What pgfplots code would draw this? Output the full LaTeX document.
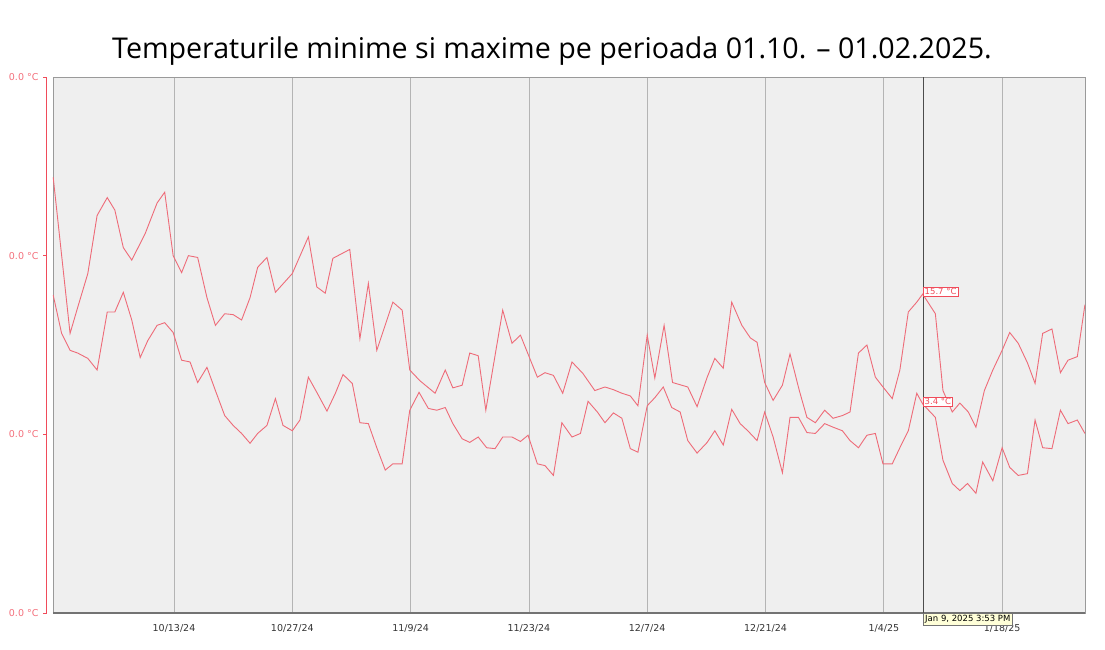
\documentclass[border=0pt]{standalone}
\usepackage{fontspec}
\setmainfont{Open Sans}
\newfontfamily\tickfont{DejaVu Sans}
\usepackage{pgfplots}
\pgfplotsset{compat=1.18}
\definecolor{linered}{HTML}{EE6B78}
\definecolor{axred}{HTML}{F04B5A}
\definecolor{plotbg}{HTML}{EFEFEF}
\definecolor{gridgray}{HTML}{B4B4B4}
\definecolor{framegray}{HTML}{9A9A9A}
\definecolor{tipyellow}{HTML}{FFFFD8}

% day 0 = 10/13/24
\pgfplotstableread{
d T
-14.3 28.8
-12.3 11.3
-11.4 14.2
-10.2 18.0
-9.1 24.5
-7.9 26.5
-7.0 25.1
-6.0 20.9
-5.0 19.5
-3.4 22.5
-2.0 25.9
-1.1 27.1
-0.1 20.0
0.9 18.1
1.7 20.0
2.8 19.8
3.9 15.3
4.9 12.2
6.0 13.5
7.0 13.4
8.0 12.8
9.0 15.3
9.9 18.7
11.0 19.8
12.0 15.9
14.0 18.0
15.9 22.1
16.9 16.5
17.9 15.8
18.8 19.7
20.8 20.7
22.0 10.7
23.0 16.9
24.0 9.4
25.9 14.8
27.0 13.9
27.9 7.2
29.1 6.0
30.9 4.6
32.1 7.2
33.0 5.2
34.1 5.5
35.0 9.1
36.0 8.8
36.9 2.7
38.9 13.9
40.0 10.2
41.0 11.1
43.0 6.4
43.9 6.9
44.9 6.6
46.0 4.6
47.1 8.1
48.4 6.8
49.8 4.9
51.0 5.3
52.0 5.0
53.0 4.6
54.0 4.3
54.9 3.2
56.0 11.1
56.9 6.3
58.0 12.2
59.0 5.8
60.8 5.3
61.9 3.1
63.1 6.4
64.0 8.5
65.0 7.4
66.0 14.8
67.2 12.2
68.2 10.8
69.0 10.3
69.9 5.8
70.9 3.8
72.0 5.5
72.9 9.0
74.0 4.9
74.9 1.9
75.9 1.3
77.0 2.7
78.0 1.8
79.1 2.1
80.0 2.5
81.0 9.1
82.0 10.0
83.0 6.4
83.9 5.3
85.0 4.0
85.9 7.2
86.9 13.7
87.9 14.8
88.6 15.7
90.1 13.5
91.0 4.9
92.1 2.5
93.0 3.5
94.0 2.5
94.9 0.8
95.9 4.9
96.9 7.2
98.0 9.4
98.9 11.4
99.9 10.2
101.0 8.0
101.9 5.7
102.8 11.3
103.9 11.8
104.9 6.9
105.8 8.3
106.9 8.7
107.8 14.5
}\tmax

\pgfplotstableread{
d T
-14.3 15.6
-13.3 11.3
-12.3 9.4
-11.4 9.1
-10.2 8.5
-9.1 7.2
-7.9 13.7
-7.0 13.7
-6.0 15.9
-5.0 12.8
-4.0 8.6
-3.1 10.5
-2.0 12.2
-1.1 12.5
-0.1 11.4
0.9 8.3
1.9 8.1
2.8 5.8
3.9 7.5
4.9 4.9
6.0 2.1
7.0 1.0
8.0 0.1
9.0 -1.0
9.9 0.1
11.0 1.0
12.0 4.0
12.9 1.0
14.0 0.4
14.9 1.6
15.9 6.4
16.9 4.7
18.1 2.6
19.1 4.6
20.0 6.7
21.1 5.7
22.0 1.3
23.0 1.2
24.0 -1.5
25.0 -4.0
25.9 -3.3
27.0 -3.3
27.9 2.7
29.0 4.7
30.1 2.9
31.1 2.7
32.1 3.0
33.0 1.2
34.1 -0.5
35.0 -0.9
36.0 -0.3
37.0 -1.5
38.0 -1.6
38.9 -0.3
40.0 -0.3
41.0 -0.8
41.9 -0.1
43.0 -3.3
43.9 -3.5
44.9 -4.6
45.9 1.3
47.1 -0.3
48.1 0.1
49.0 3.7
50.1 2.5
51.0 1.3
52.0 2.4
53.0 1.8
54.0 -1.6
54.9 -2.0
56.0 3.2
56.9 4.1
57.9 5.3
58.9 3.0
59.9 2.5
60.8 -0.7
61.9 -2.1
63.1 -0.9
64.0 0.4
65.0 -1.2
66.0 2.8
67.0 1.2
67.9 0.4
69.0 -0.7
69.9 2.5
70.9 -0.3
72.0 -4.3
72.9 1.9
73.9 1.9
74.9 0.2
75.9 0.1
77.0 1.2
78.0 0.8
79.1 0.4
80.0 -0.7
81.0 -1.5
82.0 -0.1
83.0 0.1
83.9 -3.3
85.0 -3.3
85.9 -1.5
86.9 0.4
87.9 4.6
88.6 3.4
90.1 1.9
91.0 -2.9
92.1 -5.5
93.0 -6.3
93.9 -5.5
94.9 -6.6
95.7 -3.1
96.9 -5.2
98.0 -1.5
98.9 -3.7
99.9 -4.6
101.0 -4.4
101.9 1.6
102.8 -1.5
103.9 -1.6
104.9 2.7
105.8 1.2
106.9 1.6
107.8 0.1
}\tmin

\begin{document}
\begin{tikzpicture}
\useasboundingbox (-53pt,-36pt) rectangle (1052pt,613pt);
\begin{axis}[
  at={(0,0)}, anchor=south west,
  scale only axis, width=1032pt, height=536pt,
  xmin=-14.32, xmax=107.81, ymin=-20, ymax=40,
  axis background/.style={fill=plotbg},
  axis line style={framegray, line width=0.8pt},
  xtick={0,14,...,98},
  xticklabels={10/13/24,10/27/24,11/9/24,11/23/24,12/7/24,12/21/24,1/4/25,1/18/25},
  ytick={-20,0,20,40},
  yticklabels={0.0 °C,0.0 °C,0.0 °C,0.0 °C},
  major tick length=0pt,
  xmajorgrids,
  grid style={gridgray, line width=0.8pt},
  yticklabel style={font=\tickfont\fontsize{9.5}{10}\selectfont, text=axred!80, xshift=-11pt},
  xticklabel style={font=\tickfont\fontsize{9.5}{10}\selectfont, text=black!80, yshift=-8pt},
  clip mode=individual,
]
\addplot[linered, line width=0.9pt] table[x=d, y=T] {\tmax};
\addplot[linered, line width=0.9pt] table[x=d, y=T] {\tmin};

\draw[black!55, line width=1.6pt] (rel axis cs:0,0) -- (rel axis cs:1,0);
\draw[axred, line width=1pt] ([xshift=-6pt]rel axis cs:0,0) -- ([xshift=-6pt]rel axis cs:0,1);
\pgfplotsinvokeforeach{-20,0,20,40}{
  \draw[axred, line width=0.8pt] ([xshift=-6pt]axis cs:-14.32,#1) -- ([xshift=-9.5pt]axis cs:-14.32,#1);
}
\draw[black!70, line width=0.9pt] (axis cs:88.64,-20) -- (axis cs:88.64,40);
\node[anchor=north west, draw=black!55, fill=tipyellow, inner sep=2pt,
      font=\tickfont\fontsize{8.5}{9}\selectfont] at (axis cs:88.64,-20) {Jan 9, 2025 3:53 PM};
\node[anchor=south west, draw=axred, fill=white, text=axred, inner sep=1.5pt, yshift=-2.5pt,
      font=\tickfont\fontsize{8.5}{9}\selectfont] at (axis cs:88.64,15.7) {15.7 °C};
\node[anchor=south west, draw=axred, fill=white, text=axred, inner sep=1.5pt, yshift=-2.5pt,
      font=\tickfont\fontsize{8.5}{9}\selectfont] at (axis cs:88.64,3.4) {3.4 °C};

\node[font=\fontsize{28.6}{34}\selectfont, text=black] at ([yshift=26pt]rel axis cs:0.4835,1)
  {Temperaturile minime si maxime pe perioada 01.10. – 01.02.2025.};
\end{axis}
\end{tikzpicture}
\end{document}
